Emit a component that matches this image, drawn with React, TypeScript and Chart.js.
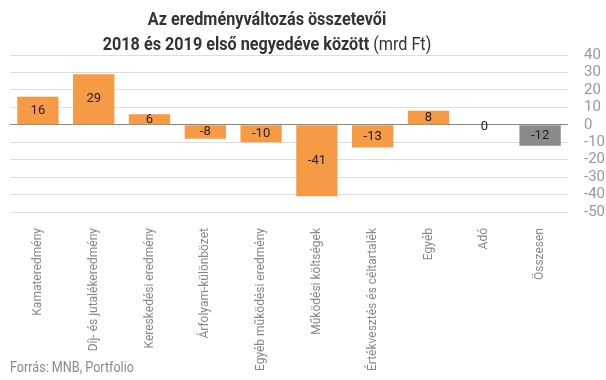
import React, { useEffect, useRef } from "react";
import { Chart, registerables } from "chart.js";

Chart.register(...registerables);

const categories = [
  "Kamateredmény",
  "Díj- és jutalékeredmény",
  "Kereskedési eredmény",
  "Árfolyam-különbözet",
  "Egyéb működési eredmény",
  "Működési költségek",
  "Értékvesztés és céltartalék",
  "Egyéb",
  "Adó",
  "Összesen",
];
const values = [16, 29, 6, -8, -10, -41, -13, 8, 0, -12];
const barColors = [
  "#F79A45", "#F79A45", "#F79A45", "#F79A45", "#F79A45",
  "#F79A45", "#F79A45", "#F79A45", "#F79A45", "#8A8A8A",
];
const titleLine1 = "Az eredményváltozás összetevői";
const titleLine2Bold = "2018 és 2019 első negyedéve között";
const titleLine2Normal = " (mrd Ft)";
const footerText = "Forrás: MNB, Portfolio";

const FONT = "Roboto, 'Noto Sans', sans-serif";

const titlePlugin = {
  id: "customTitle",
  afterDraw(chart: any) {
    const ctx = chart.ctx as CanvasRenderingContext2D;
    const sx = 0.9;
    const cx = 267;
    ctx.save();
    ctx.fillStyle = "#333333";
    ctx.textBaseline = "middle";
    ctx.textAlign = "left";
    ctx.font = `bold 18px ${FONT}`;
    const w1 = ctx.measureText(titleLine1).width;
    ctx.save();
    ctx.translate(cx, 20);
    ctx.scale(sx, 1);
    ctx.fillText(titleLine1, -w1 / 2, 0);
    ctx.restore();
    ctx.font = `bold 18px ${FONT}`;
    const wb = ctx.measureText(titleLine2Bold).width;
    ctx.font = `18px ${FONT}`;
    const wn = ctx.measureText(titleLine2Normal).width;
    ctx.save();
    ctx.translate(cx, 45);
    ctx.scale(sx, 1);
    const start = -(wb + wn) / 2;
    ctx.font = `bold 18px ${FONT}`;
    ctx.fillText(titleLine2Bold, start, 0);
    ctx.font = `18px ${FONT}`;
    ctx.fillText(titleLine2Normal, start + wb, 0);
    ctx.restore();
    ctx.save();
    ctx.fillStyle = "#8a8a8a";
    ctx.font = `14px ${FONT}`;
    ctx.translate(10, 368);
    ctx.scale(0.9, 1);
    ctx.fillText(footerText, 0, 0);
    ctx.restore();
    ctx.restore();
  },
};

const valueLabelPlugin = {
  id: "valueLabels",
  afterDatasetsDraw(chart: any) {
    const ctx = chart.ctx as CanvasRenderingContext2D;
    const meta = chart.getDatasetMeta(0);
    ctx.save();
    ctx.fillStyle = "#222222";
    ctx.font = `13px ${FONT}`;
    ctx.textAlign = "center";
    ctx.textBaseline = "middle";
    meta.data.forEach((el: any, i: number) => {
      const v = values[i];
      const y = (el.y + el.base) / 2 + (v === 0 ? 2 : 0);
      ctx.fillText(String(v), el.x, y);
    });
    ctx.restore();
  },
};

export default function App() {
  const ref = useRef<HTMLCanvasElement | null>(null);
  useEffect(() => {
    document.body.style.margin = "0";
    document.body.style.background = "#ffffff";
    const chart = new Chart(ref.current as HTMLCanvasElement, {
      type: "bar",
      data: {
        labels: categories,
        datasets: [
          {
            data: values,
            backgroundColor: barColors,
            borderWidth: 0,
            barPercentage: 0.74,
            categoryPercentage: 1,
          },
        ],
      },
      options: {
        responsive: false,
        animation: false,
        layout: { padding: { top: 55, left: 10, right: 0, bottom: 0 } },
        plugins: {
          legend: { display: false },
          title: { display: false },
          tooltip: { enabled: false },
        },
        scales: {
          x: {
            grid: { display: false },
            border: { display: false },
            ticks: {
              autoSkip: false,
              maxRotation: 90,
              minRotation: 90,
              color: "#888888",
              font: { family: FONT, size: 12 },
              padding: 8,
            },
            afterFit(scale: any) {
              scale.height = 168;
            },
          },
          y: {
            position: "right",
            min: -50,
            max: 40,
            border: { display: false },
            grid: {
              drawTicks: false,
              color: (c: any) => (c.tick && c.tick.value === 0 ? "#888888" : "#dddddd"),
              lineWidth: 1,
            },
            ticks: {
              stepSize: 10,
              autoSkip: false,
              color: "#999999",
              font: { family: FONT, size: 15 },
              padding: 16,
            },
            afterFit(scale: any) {
              scale.width = 38;
            },
          },
        },
      },
      plugins: [titlePlugin, valueLabelPlugin],
    });
    return () => chart.destroy();
  }, []);
  return (
    <div style={{ width: 606, height: 380 }}>
      <canvas ref={ref} width={606} height={380} />
    </div>
  );
}
